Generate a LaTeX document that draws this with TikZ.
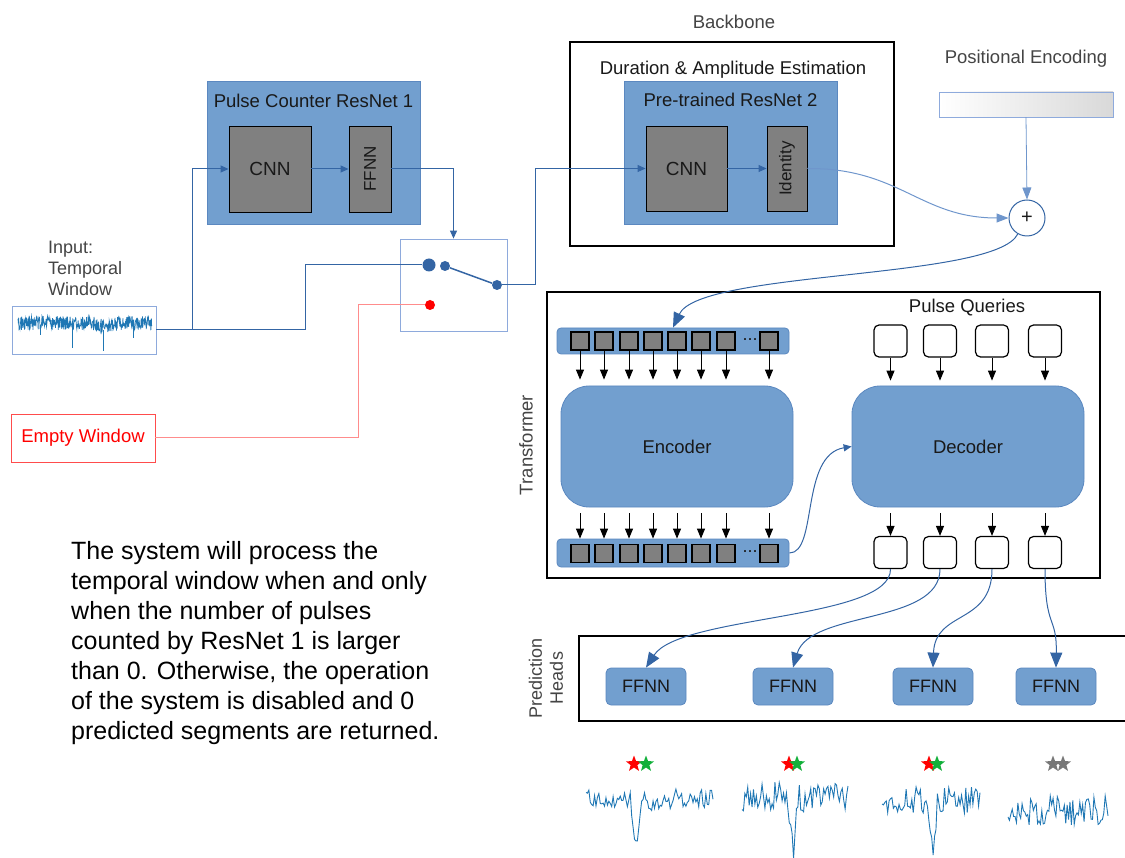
\documentclass[tikz,border=0pt]{standalone}
\usepackage{fontspec}
\setmainfont{Liberation Sans}
\usetikzlibrary{arrows.meta,calc,shapes.geometric}
\definecolor{bfill}{HTML}{729FCF}
\definecolor{bdraw}{HTML}{3465A4}
\definecolor{bedge}{HTML}{5B88C0}
\definecolor{gfill}{HTML}{808080}
\definecolor{lblue}{HTML}{8EAADC}
\definecolor{wavec}{HTML}{1F77B4}
\definecolor{labc}{HTML}{444444}
\definecolor{lred}{HTML}{FF8C8C}
\definecolor{sgreen}{HTML}{12B03A}
\definecolor{sgrey}{HTML}{777777}
\definecolor{pline}{HTML}{6F96CC}
\begin{document}
\begin{tikzpicture}[x=1pt,y=-1pt,
  every node/.style={font=\fontsize{18.5}{22}\selectfont, text=black!90},
  bluebox/.style={draw=bedge, fill=bfill, line width=0.8pt, inner sep=0},
  greybox/.style={draw=black, fill=gfill, line width=0.9pt, inner sep=0},
  bigframe/.style={draw=black, line width=2.5pt, inner sep=0},
  conn/.style={draw=bdraw, line width=1pt},
  tipS/.style={-{Triangle[length=8pt,width=7pt]}},
  tipM/.style={-{Triangle[length=12pt,width=9pt]}},
  tipL/.style={-{Triangle[length=15pt,width=12pt]}},
  karr/.style={draw=black, line width=1pt, -{Triangle[length=10pt,width=8pt]}},
  sqbox/.style={greybox, minimum width=18, minimum height=18, line width=1.2pt},
  qbox/.style={draw=black, fill=white, rounded corners=5pt, minimum width=33, minimum height=32, line width=1.2pt, inner sep=0},
  lab/.style={text=labc},
  headbox/.style={bluebox, rounded corners=5pt, minimum width=80, minimum height=37, font=\fontsize{18}{22}\selectfont},
  bdot/.style={circle, fill=bdraw, inner sep=0},
  strn/.style={star, star points=5, star point ratio=2.4, minimum size=17, inner sep=0},
  rotlab/.style={rotate=90, font=\fontsize{17}{20}\selectfont},
  ellip/.style={font=\fontsize{18}{18}\selectfont, inner sep=0},
]
\useasboundingbox (0,0) rectangle (1125,858);

% ---------- Backbone ----------
\node[lab] (bbl) at (734,22) {Backbone};
\node[bigframe, minimum width=324, minimum height=204] (bb) at (732,144) {};
\node (dae) at (733,70) {Duration \& Amplitude Estimation};
\node[bluebox, minimum width=213, minimum height=143] (rn2) at (730.5,152.5) {};
\node (rn2l) at (730.5,100) {Pre-trained ResNet 2};
\node[greybox, minimum width=81, minimum height=85, font=\fontsize{19}{22}\selectfont] (cnn2) at (686.5,168.5) {CNN};
\node[greybox, minimum width=40, minimum height=85] (idn) at (787,168.5) {};
\node[rotlab] (idnl) at (idn) {Identity};

% ---------- Pulse counter ----------
\node[bluebox, minimum width=213, minimum height=143] (rn1) at (313.5,152.5) {};
\node (rn1l) at (313.5,101) {Pulse Counter ResNet 1};
\node[greybox, minimum width=82, minimum height=86, font=\fontsize{19}{22}\selectfont] (cnn1) at (270,169) {CNN};
\node[greybox, minimum width=42, minimum height=86] (ff1) at (370,169) {};
\node[rotlab] (ff1l) at (ff1) {FFNN};

% ---------- Switch ----------
\node[draw=lblue, line width=0.8pt, minimum width=107, minimum height=92, inner sep=0] (sw) at (453.5,285) {};
\node[bdot, minimum size=13] (da) at (429,265) {};
\node[bdot, minimum size=10] (db) at (445,266) {};
\node[bdot, minimum size=10] (dc) at (497,285) {};
\node[circle, fill=red, inner sep=0, minimum size=10] (dr) at (430,305) {};
\draw[conn, line width=1.5pt] (db) -- (dc);

% ---------- Input ----------
\node[lab, align=left, anchor=north west, font=\fontsize{18}{21}\selectfont, inner sep=0] (inl) at (48,241) {Input:\\Temporal\\Window};
\node[draw=lblue, line width=0.8pt, minimum width=144, minimum height=48, inner sep=0] (inb) at (84,330) {};
\node[draw=red!70, line width=0.8pt, minimum width=144, minimum height=48, inner sep=0, text=red] (emp) at (83,438) {Empty Window};

\pgfmathsetseed{42}
\draw[wavec, line width=0.7pt] plot[domain=18:152, samples=420] (\x, {323 + 7*rand + 2.5*exp(-((\x-105)/10)^2)});
\draw[wavec, line width=0.8pt] (72,328) -- (72,348) (103,330) -- (103,351) (133,328) -- (133,338) (40,327) -- (40,335);

% ---------- Paragraph ----------
\node[anchor=north west, align=left, inner sep=0, font=\fontsize{25}{30}\selectfont, text=black] (para) at (71,541)
{The system will process the\\temporal window when and only\\when the number of pulses\\counted by ResNet 1 is larger\\than 0. Otherwise, the operation\\of the system is disabled and 0\\predicted segments are returned.};

% ---------- Positional encoding ----------
\node[lab] (pel) at (1026,59) {Positional Encoding};
\node[draw=lblue, left color=white, right color=black!15, minimum width=174, minimum height=25, inner sep=0] (pe) at (1026,104.5) {};
\node[circle, draw=bdraw, fill=white, line width=1pt, minimum size=36, inner sep=0, font=\fontsize{20}{20}\selectfont] (plus) at (1027,218) {+};

% ---------- Transformer ----------
\node[bigframe, minimum width=553, minimum height=286] (tr) at (823.5,435) {};
\node[lab, rotate=90] (trl) at (526,445) {Transformer};
\node[bluebox, rounded corners=4pt, minimum width=232, minimum height=26] (ein) at (673,341) {};
\node[bluebox, rounded corners=28pt, minimum width=232, minimum height=121] (enc) at (677,446.5) {Encoder};
\node[bluebox, rounded corners=4pt, minimum width=232, minimum height=28] (eout) at (673,553) {};
\node[bluebox, rounded corners=28pt, minimum width=232, minimum height=121] (dec) at (968,446.5) {Decoder};
\node (pql) at (967,308) {Pulse Queries};
\foreach [count=\i] \x in {580,604,629,653,677,701,726,769} {
  \node[sqbox] (a\i) at (\x,341) {};
  \node[sqbox] (b\i) at (\x,553.5) {};
  \draw[karr] (a\i.south) -- ($(a\i.south |- enc.north)+(0,-6)$);
  \draw[karr] ($(enc.south -| b\i)+(0,6)$) -- (b\i.north |- eout.north);
}
\node[ellip] (ed1) at (750,340) {...};
\node[ellip] (ed2) at (750,552) {...};
\foreach [count=\i] \x in {890.5,940,992,1045} {
  \node[qbox] (q\i) at (\x,341) {};
  \node[qbox] (o\i) at (\x,552.5) {};
  \draw[karr] (q\i.south) -- ($(q\i.south |- dec.north)+(0,-5)$);
  \draw[karr] ($(dec.south -| o\i)+(0,6)$) -- (o\i.north);
}

% ---------- Prediction heads ----------
\node[bigframe, minimum width=556, minimum height=85] (ph) at (857,678.5) {};
\node[lab, rotate=90, align=center, font=\fontsize{18}{21}\selectfont] (phl) at (546,678) {Prediction\\Heads};
\foreach [count=\i] \x in {646,793,933,1056} \node[headbox] (h\i) at (\x,686.5) {FFNN};

% ---------- Connectors ----------
\draw[conn] (inb.east) -- ++(149,0) |- (da);
\draw[conn, tipS] ($(inb.east)+(36,0)$) |- (cnn1.west);
\draw[conn, tipS] (cnn1.east) -- (ff1.west);
\draw[conn, tipS] (ff1.east) -| (sw.north);
\draw[draw=lred, line width=1pt] (emp.east) -| (358,305) -- (dr);
\draw[conn, tipS] (dc.east) -- ++(33,0) |- (cnn2.west);
\draw[conn, tipS] (cnn2.east) -- (idn.west);
\draw[conn, draw=pline, tipM] (idn.east) .. controls (900,168) and (920,218) .. (plus.west);
\draw[conn, draw=pline, line width=0.8pt, tipM] (pe.south) -- (plus.north);
\draw[conn, tipL] (plus.240) .. controls (995,280) and (700,270) .. (ein.north);
\draw[conn, tipS] (eout.east) .. controls (818,553) and (800,455) .. (dec.west);
\draw[conn, tipL] (o1.south) .. controls (891,620) and (680,615) .. (h1.north);
\draw[conn, tipL] (o2.south) .. controls (940,625) and (810,610) .. (h2.north);
\draw[conn, tipL] (o3.south) .. controls (992,625) and (935,610) .. (h3.north);
\draw[conn, tipL] (o4.south) .. controls (1045,630) and (1057,615) .. (h4.north);

% ---------- Output waveforms ----------
\draw[wavec, line width=0.9pt] plot[domain=586:713, samples=90] (\x, {800 + 11*rand + 44*exp(-((\x-636)/3)^2)});
\draw[wavec, line width=0.9pt] plot[domain=742:848, samples=75] (\x, {797 + 15*rand + 54*exp(-((\x-793)/3)^2)});
\draw[wavec, line width=0.9pt] plot[domain=882:980, samples=70] (\x, {800 + 13*rand + 52*exp(-((\x-933)/3)^2)});
\draw[wavec, line width=0.9pt] plot[domain=1008:1108, samples=72] (\x, {810 + 15*rand});

\node[strn, fill=red] (s1a) at (634,764) {};
\node[strn, fill=sgreen] (s1b) at (646,764) {};
\node[strn, fill=red] (s2a) at (789,764) {};
\node[strn, fill=sgreen] (s2b) at (797,764) {};
\node[strn, fill=red] (s3a) at (929,764) {};
\node[strn, fill=sgreen] (s3b) at (937,764) {};
\node[strn, fill=sgrey] (s4a) at (1053,764) {};
\node[strn, fill=sgrey] (s4b) at (1063,764) {};
\end{tikzpicture}
\end{document}
